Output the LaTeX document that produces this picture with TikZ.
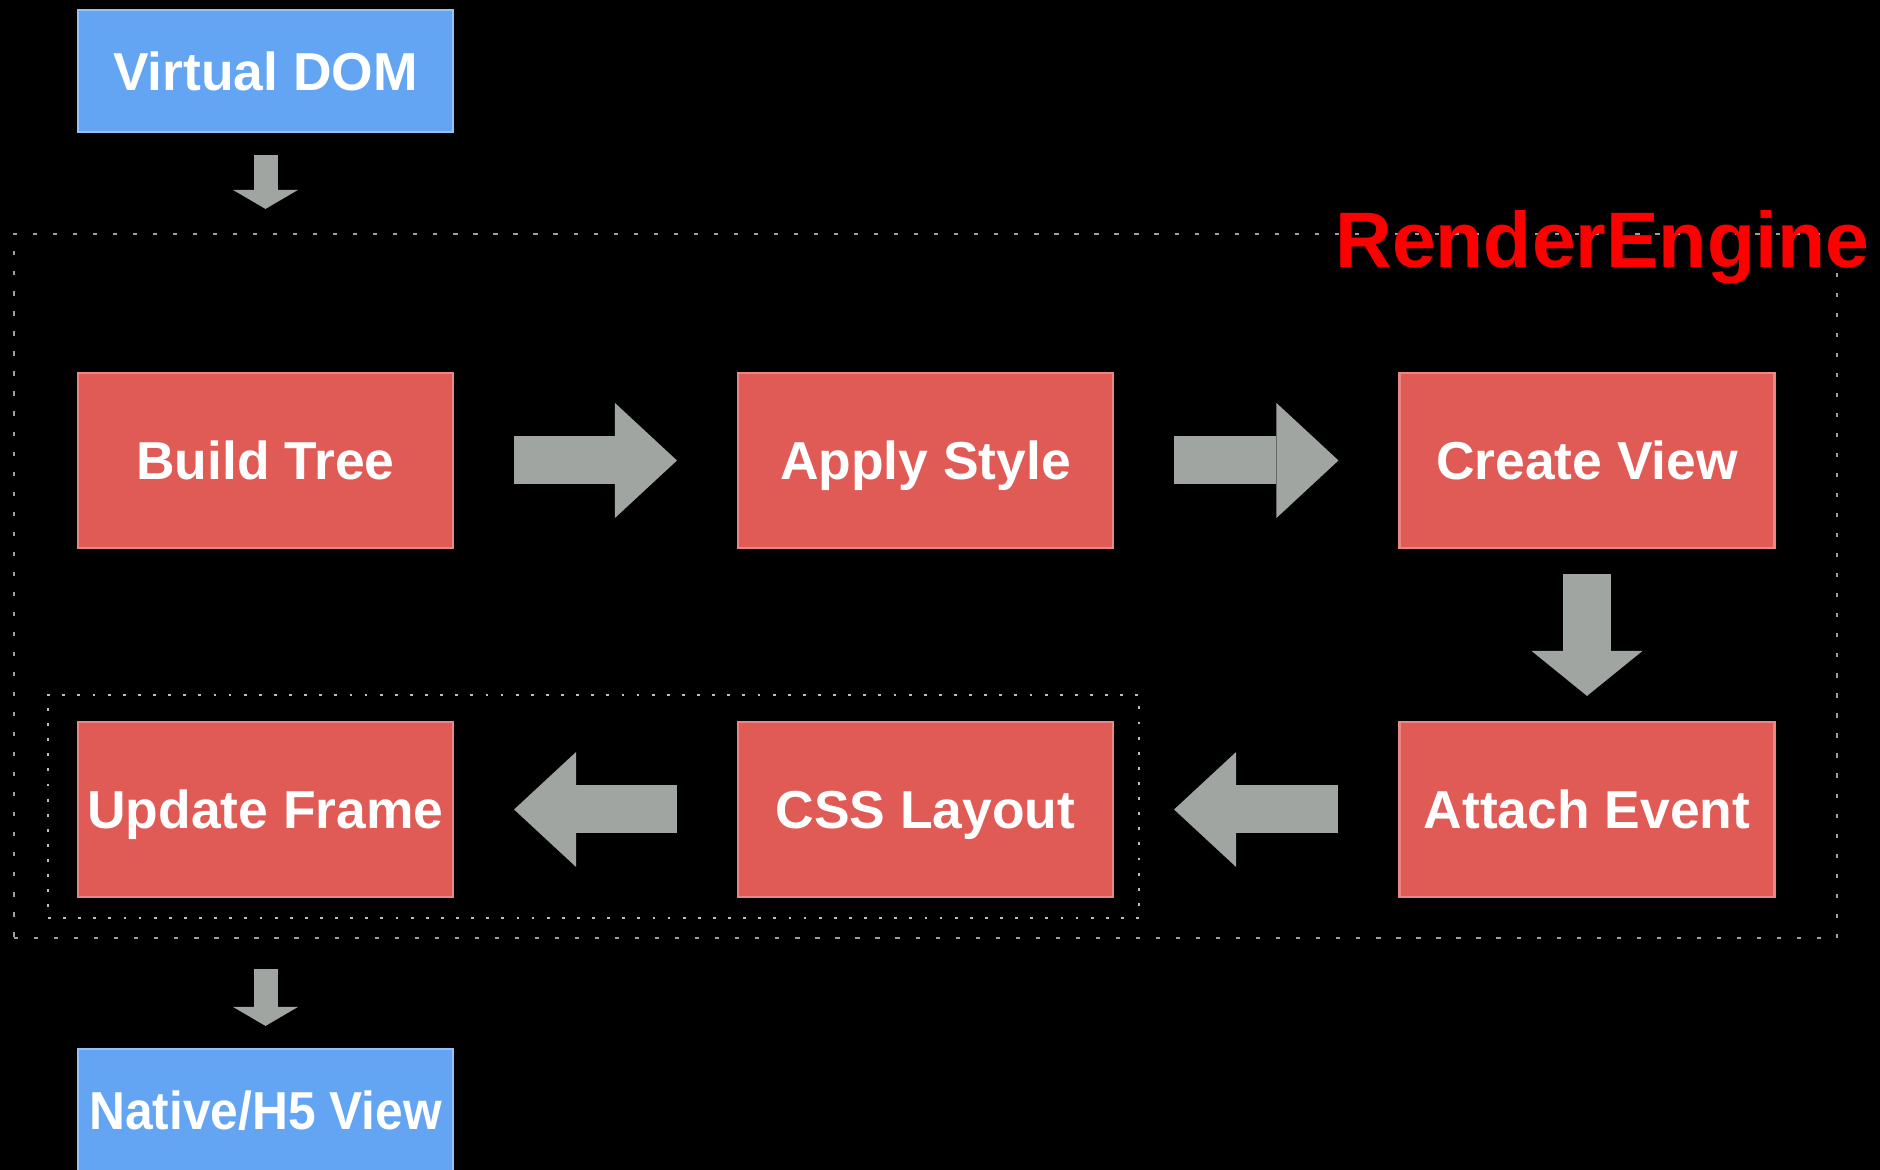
\documentclass[tikz,border=0pt]{standalone}
\usepackage{fontspec}
\setmainfont{Liberation Sans}
\usepackage{graphicx}
\usetikzlibrary{arrows.meta,positioning}

\definecolor{stagered}{RGB}{224,91,85}
\definecolor{stageedge}{RGB}{234,135,130}
\definecolor{ioblue}{RGB}{99,165,242}
\definecolor{ioedge}{RGB}{150,195,245}
\definecolor{arrowgray}{RGB}{160,165,162}
\definecolor{dotgray}{RGB}{160,160,160}

\begin{document}
\begin{tikzpicture}[
    stage/.style={rectangle, draw=stageedge, line width=0.6pt, fill=stagered, text=white, font=\fontsize{15.2}{18}\selectfont\bfseries, minimum width=3.75cm, minimum height=1.75cm, inner sep=0pt, text height=10.9pt, text depth=0pt, align=center},
    io/.style={stage, draw=ioedge, fill=ioblue, minimum height=1.22cm},
    engine/.style={rectangle, draw=dotgray, line width=0.6pt, dash pattern=on 1.2pt off 4.5pt, minimum width=18.23cm, minimum height=7.04cm, inner sep=0pt},
    subgroup/.style={rectangle, draw=dotgray!70, line width=0.5pt, dash pattern=on 0.8pt off 3.5pt, minimum width=10.91cm, minimum height=2.23cm, inner sep=0pt},
    bigarrow/.style={arrowgray, line width=0.48cm, -{Triangle[width=1.15cm, length=0.62cm, line width=0pt]}, shorten <=0.6cm, shorten >=0.6cm},
    downarrow/.style={arrowgray, line width=0.48cm, -{Triangle[width=1.11cm, length=0.45cm, line width=0pt]}, shorten <=0.25cm, shorten >=0.25cm},
    smallarrow/.style={arrowgray, line width=0.24cm, -{Triangle[width=0.65cm, length=0.19cm, line width=0pt]}},
    title/.style={text=red, font=\fontsize{22.4}{26}\selectfont\bfseries, inner sep=0pt}
]
\fill[black] (0,0) rectangle (18.8,11.7);
\useasboundingbox (0,0) rectangle (18.8,11.7);

% Containers
\node[engine] (engine) at (9.255,5.84) {};
\node[subgroup] (layoutgroup) at (5.935,3.635) {};

% Input / output
\node[io] (vdom) at (2.655,10.99) {Virtual DOM};
\node[io] (native) at (2.655,0.60) {\scalebox{0.93}[1]{Native/H5 View}};

% Stages
\node[stage] (build) at (2.655,7.095) {Build Tree};
\node[stage] (style) at (9.255,7.095) {Apply Style};
\node[stage] (create) at (15.87,7.095) {Create View};
\node[stage] (update) at (2.655,3.605) {Update Frame};
\node[stage] (layout) at (9.255,3.605) {CSS Layout};
\node[stage] (attach) at (15.87,3.605) {Attach Event};

% Arrows
\draw[smallarrow, shorten <=0.22cm, shorten >=0.24cm] (vdom) -- (vdom |- engine.north);
\draw[bigarrow] (build) -- (style);
\draw[bigarrow] (style) -- (create);
\draw[downarrow] (create) -- (attach);
\draw[bigarrow] (attach) -- (layout);
\draw[bigarrow] (layout) -- (update);
\draw[smallarrow, shorten <=0.30cm, shorten >=0.22cm] (update |- engine.south) -- (native);

% Label
\node[title, anchor=base] (enginelabel) at (16.02,9.02) {RenderEngine};

\end{tikzpicture}
\end{document}
